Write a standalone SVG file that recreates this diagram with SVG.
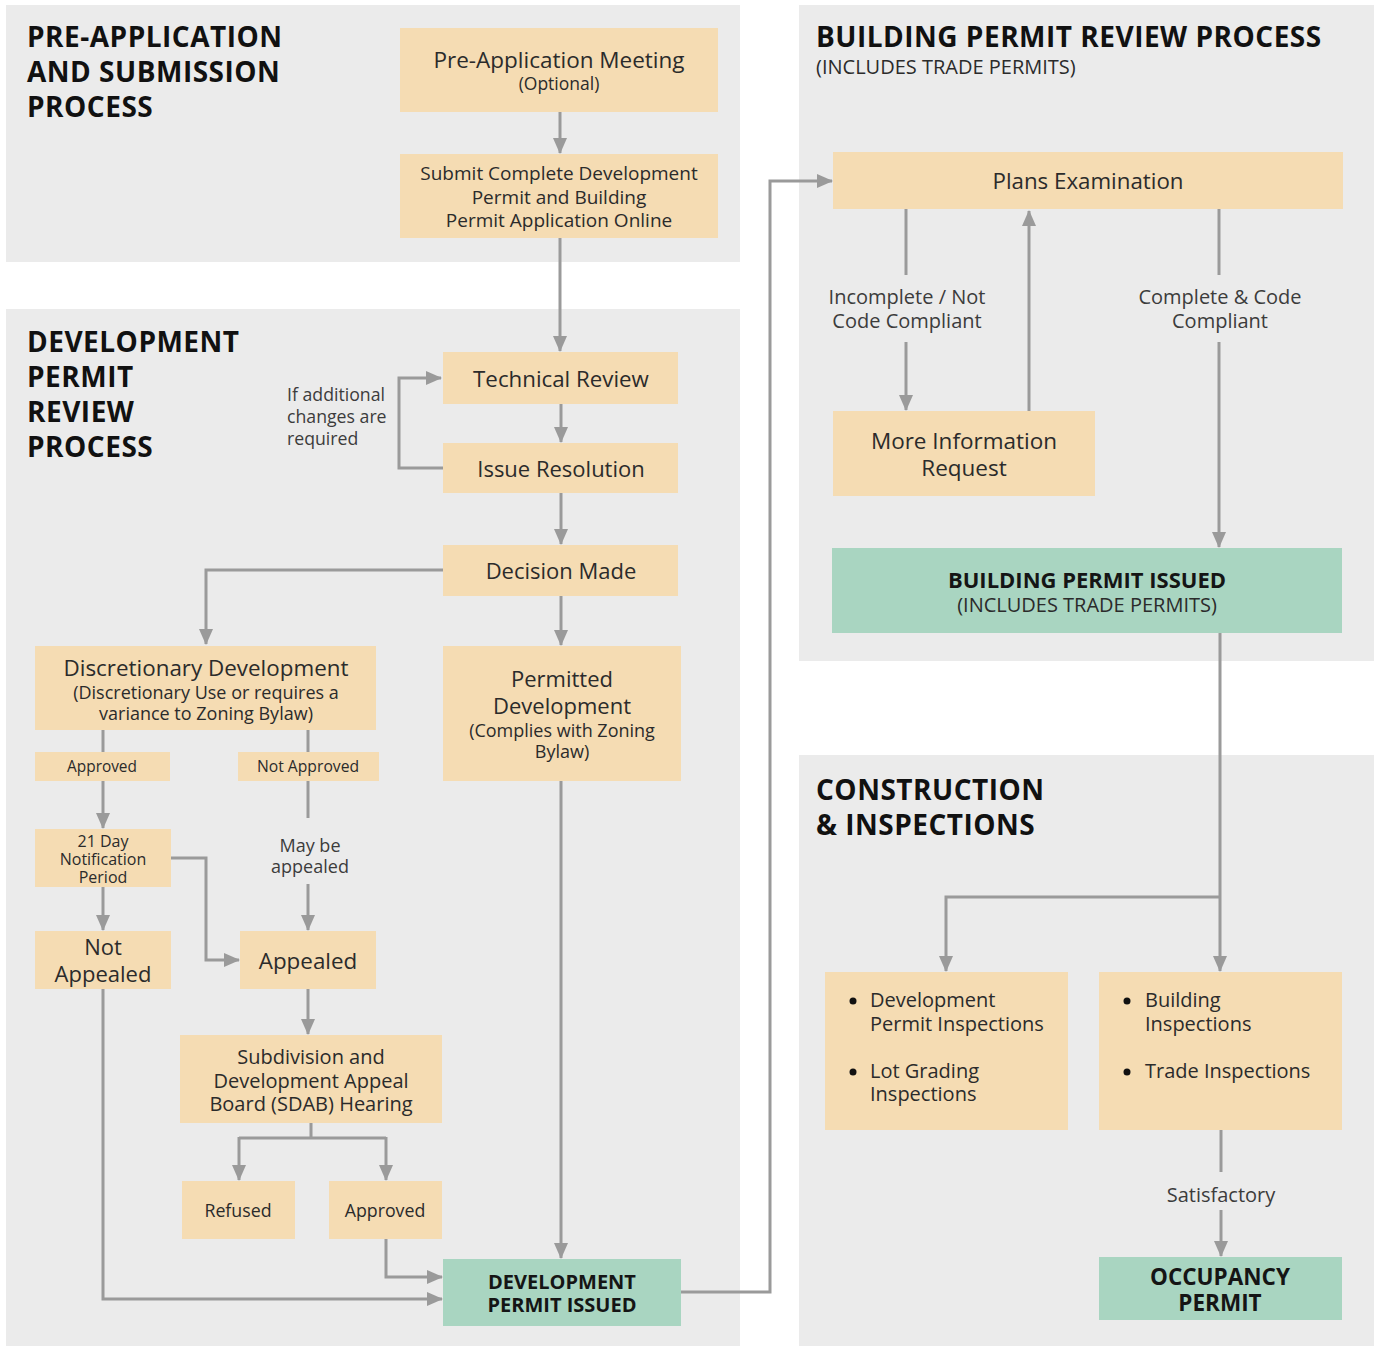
<svg xmlns="http://www.w3.org/2000/svg" width="1376" height="1346" viewBox="0 0 1376 1346">
<style>
.panel{fill:#ebebeb}
.box{fill:#f5dcb3}
.green{fill:#a9d5c1}
text{font-family:"Open Sans","Noto Sans","Liberation Sans",sans-serif;fill:#2b2b2b}
.title{font-weight:bold;font-size:28px;letter-spacing:0.5px;fill:#111}
.c{text-anchor:middle}
.b{font-weight:bold;fill:#151515}
.lbl{fill:#3c3c3c}
.conn path,.conn line{fill:none;stroke:#9a9a9a;stroke-width:3}
.arr{marker-end:url(#ah)}
</style>
<defs>
<marker id="ah" viewBox="0 0 16 14" markerWidth="16" markerHeight="14" refX="15" refY="7" orient="auto" markerUnits="userSpaceOnUse">
<path d="M0,0 L16,7 L0,14 z" fill="#9a9a9a"/>
</marker>
</defs>
<rect width="1376" height="1346" fill="#ffffff"/>
<g id="panels">
<rect class="panel" x="6" y="5" width="734" height="257"/>
<rect class="panel" x="6" y="309" width="734" height="1037"/>
<rect class="panel" x="799" y="5" width="575" height="656"/>
<rect class="panel" x="799" y="755" width="575" height="591"/>
</g>
<g id="titles">
<text class="title" x="27" y="47">PRE-APPLICATION</text>
<text class="title" x="27" y="82">AND SUBMISSION</text>
<text class="title" x="27" y="117">PROCESS</text>
<text class="title" x="27" y="352">DEVELOPMENT</text>
<text class="title" x="27" y="387">PERMIT</text>
<text class="title" x="27" y="422">REVIEW</text>
<text class="title" x="27" y="457">PROCESS</text>
<text class="title" x="816" y="47">BUILDING PERMIT REVIEW PROCESS</text>
<text x="816" y="74" font-size="20">(INCLUDES TRADE PERMITS)</text>
<text class="title" x="816" y="800">CONSTRUCTION</text>
<text class="title" x="816" y="835">&amp; INSPECTIONS</text>
</g>
<g class="conn" id="connectors">
<line class="arr" x1="560" y1="112" x2="560" y2="153"/>
<line class="arr" x1="560" y1="238" x2="560" y2="351"/>
<line class="arr" x1="561" y1="404" x2="561" y2="442"/>
<path class="arr" d="M443,468 H399 V378 H441"/>
<line class="arr" x1="561" y1="493" x2="561" y2="544"/>
<path class="arr" d="M443,570 H206 V644"/>
<line class="arr" x1="561" y1="596" x2="561" y2="645"/>
<line x1="103" y1="730" x2="103" y2="752"/>
<line x1="308" y1="730" x2="308" y2="752"/>
<line class="arr" x1="103" y1="781" x2="103" y2="828"/>
<line x1="308" y1="781" x2="308" y2="818"/>
<line class="arr" x1="308" y1="884" x2="308" y2="930"/>
<line class="arr" x1="103" y1="887" x2="103" y2="930"/>
<path class="arr" d="M171,858 H206 V960 H239"/>
<line class="arr" x1="308" y1="989" x2="308" y2="1034"/>
<path d="M311,1123 V1138 M239,1138 H386"/>
<path class="arr" d="M239,1137 V1180"/>
<path class="arr" d="M386,1137 V1180"/>
<path class="arr" d="M386,1239 V1277 H442"/>
<path class="arr" d="M103,989 V1299 H442"/>
<line class="arr" x1="561" y1="781" x2="561" y2="1258"/>
<path class="arr" d="M681,1292 H770 V181 H832"/>
<line x1="906" y1="209" x2="906" y2="275"/>
<line class="arr" x1="906" y1="342" x2="906" y2="410"/>
<line class="arr" x1="1029" y1="411" x2="1029" y2="211"/>
<line x1="1219" y1="209" x2="1219" y2="275"/>
<line class="arr" x1="1219" y1="342" x2="1219" y2="547"/>
<path class="arr" d="M1220,633 V971"/>
<path class="arr" d="M1220,897 H946 V971"/>
<line x1="1221" y1="1130" x2="1221" y2="1172"/>
<line class="arr" x1="1221" y1="1210" x2="1221" y2="1256"/>
</g>
<g id="edge-labels">
<text class="lbl" x="287" y="401" font-size="17.7">If additional</text>
<text class="lbl" x="287" y="423" font-size="17.7">changes are</text>
<text class="lbl" x="287" y="445" font-size="17.7">required</text>
<text class="lbl c" x="310" y="852" font-size="18">May be</text>
<text class="lbl c" x="310" y="873" font-size="18">appealed</text>
<text class="lbl c" x="907" y="304" font-size="20">Incomplete / Not</text>
<text class="lbl c" x="907" y="328" font-size="20">Code Compliant</text>
<text class="lbl c" x="1220" y="304" font-size="20">Complete &amp; Code</text>
<text class="lbl c" x="1220" y="328" font-size="20">Compliant</text>
<text class="lbl c" x="1221" y="1202" font-size="20">Satisfactory</text>
</g>
<g id="n-preapp">
<rect class="box" x="400" y="28" width="318" height="84"/>
<text class="c" x="559" y="68" font-size="22.5">Pre-Application Meeting</text>
<text class="c" x="559" y="90" font-size="17.5">(Optional)</text>
</g>
<g id="n-submit">
<rect class="box" x="400" y="154" width="318" height="84"/>
<text class="c" x="559" y="180" font-size="19">Submit Complete Development</text>
<text class="c" x="559" y="204" font-size="19">Permit and Building</text>
<text class="c" x="559" y="227" font-size="19">Permit Application Online</text>
</g>
<g id="n-tech">
<rect class="box" x="443" y="352" width="235" height="52"/>
<text class="c" x="561" y="387" font-size="22.3">Technical Review</text>
</g>
<g id="n-issue">
<rect class="box" x="443" y="443" width="235" height="50"/>
<text class="c" x="561" y="477" font-size="22">Issue Resolution</text>
</g>
<g id="n-decision">
<rect class="box" x="443" y="545" width="235" height="51"/>
<text class="c" x="561" y="579" font-size="22">Decision Made</text>
</g>
<g id="n-discretionary">
<rect class="box" x="35" y="646" width="341" height="84"/>
<text class="c" x="206" y="676" font-size="22.4">Discretionary Development</text>
<text class="c" x="206" y="699" font-size="18">(Discretionary Use or requires a</text>
<text class="c" x="206" y="720" font-size="18">variance to Zoning Bylaw)</text>
</g>
<g id="n-permitted">
<rect class="box" x="443" y="646" width="238" height="135"/>
<text class="c" x="562" y="687" font-size="22">Permitted</text>
<text class="c" x="562" y="714" font-size="22">Development</text>
<text class="c" x="562" y="737" font-size="18">(Complies with Zoning</text>
<text class="c" x="562" y="758" font-size="18">Bylaw)</text>
</g>
<g id="n-approved1">
<rect class="box" x="35" y="752" width="135" height="29"/>
<text class="c" x="102" y="772" font-size="15.4">Approved</text>
</g>
<g id="n-notapproved">
<rect class="box" x="238" y="752" width="141" height="29"/>
<text class="c" x="308" y="772" font-size="15.7">Not Approved</text>
</g>
<g id="n-21day">
<rect class="box" x="35" y="829" width="136" height="58"/>
<text class="c" x="103" y="847" font-size="16">21 Day</text>
<text class="c" x="103" y="865" font-size="16">Notification</text>
<text class="c" x="103" y="883" font-size="16">Period</text>
</g>
<g id="n-notappealed">
<rect class="box" x="35" y="931" width="136" height="58"/>
<text class="c" x="103" y="955" font-size="22">Not</text>
<text class="c" x="103" y="982" font-size="22">Appealed</text>
</g>
<g id="n-appealed">
<rect class="box" x="240" y="931" width="136" height="58"/>
<text class="c" x="308" y="969" font-size="22.4">Appealed</text>
</g>
<g id="n-sdab">
<rect class="box" x="180" y="1035" width="262" height="88"/>
<text class="c" x="311" y="1064" font-size="20">Subdivision and</text>
<text class="c" x="311" y="1088" font-size="20">Development Appeal</text>
<text class="c" x="311" y="1111" font-size="20">Board (SDAB) Hearing</text>
</g>
<g id="n-refused">
<rect class="box" x="182" y="1181" width="113" height="58"/>
<text class="c" x="238" y="1217" font-size="17.8">Refused</text>
</g>
<g id="n-approved2">
<rect class="box" x="329" y="1181" width="113" height="58"/>
<text class="c" x="385" y="1217" font-size="17.8">Approved</text>
</g>
<g id="n-dpi">
<rect class="green" x="443" y="1259" width="238" height="67"/>
<text class="c b" x="562" y="1289" font-size="20">DEVELOPMENT</text>
<text class="c b" x="562" y="1312" font-size="20">PERMIT ISSUED</text>
</g>
<g id="n-plans">
<rect class="box" x="833" y="152" width="510" height="57"/>
<text class="c" x="1088" y="189" font-size="22.3">Plans Examination</text>
</g>
<g id="n-moreinfo">
<rect class="box" x="833" y="411" width="262" height="85"/>
<text class="c" x="964" y="449" font-size="22.5">More Information</text>
<text class="c" x="964" y="476" font-size="22.5">Request</text>
</g>
<g id="n-bpi">
<rect class="green" x="832" y="548" width="510" height="85"/>
<text class="c b" x="1087" y="588" font-size="22">BUILDING PERMIT ISSUED</text>
<text class="c" x="1087" y="612" font-size="20">(INCLUDES TRADE PERMITS)</text>
</g>
<g id="n-devinsp">
<rect class="box" x="825" y="972" width="243" height="158"/>
<circle cx="853" cy="1001" r="3.5" fill="#111"/>
<circle cx="853" cy="1072" r="3.5" fill="#111"/>
<text x="870" y="1007" font-size="20">Development</text>
<text x="870" y="1031" font-size="20">Permit Inspections</text>
<text x="870" y="1078" font-size="20">Lot Grading</text>
<text x="870" y="1101" font-size="20">Inspections</text>
</g>
<g id="n-bldinsp">
<rect class="box" x="1099" y="972" width="243" height="158"/>
<circle cx="1127" cy="1001" r="3.5" fill="#111"/>
<circle cx="1127" cy="1072" r="3.5" fill="#111"/>
<text x="1145" y="1007" font-size="20">Building</text>
<text x="1145" y="1031" font-size="20">Inspections</text>
<text x="1145" y="1078" font-size="20">Trade Inspections</text>
</g>
<g id="n-occupancy">
<rect class="green" x="1099" y="1257" width="243" height="63"/>
<text class="c b" x="1220" y="1285" font-size="22.5">OCCUPANCY</text>
<text class="c b" x="1220" y="1311" font-size="22.5">PERMIT</text>
</g>
</svg>
